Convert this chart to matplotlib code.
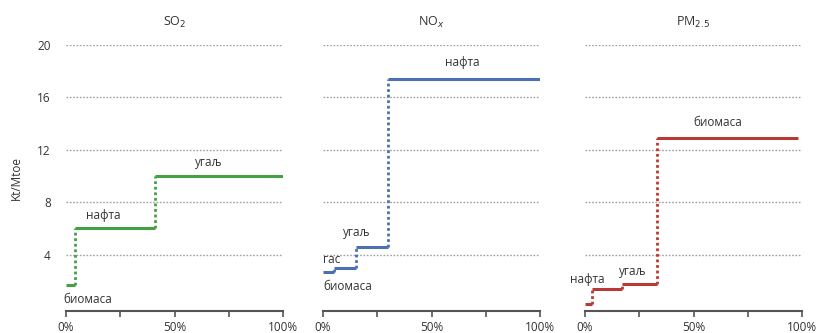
import matplotlib
matplotlib.use("Agg")
import matplotlib.pyplot as plt

# ---- data ----
titles = [r"SO$_2$", r"NO$_x$", r"PM$_{2.5}$"]

so2_fuels = ["биомаса", "нафта", "угаљ"]
so2_share_end = [4, 41, 100]          # cumulative share, %
so2_values = [1.7, 6.0, 10.0]         # Kt/Mtoe

nox_fuels = ["биомаса", "гас", "угаљ", "нафта"]
nox_share_end = [5, 15, 30, 100]
nox_values = [2.7, 2.95, 4.6, 17.4]

pm_fuels = ["гас", "нафта", "угаљ", "биомаса"]
pm_share_end = [3, 17, 33, 98]
pm_values = [0.2, 1.35, 1.75, 12.9]

y_ticks = [4, 8, 12, 16, 20]
x_ticks = [0, 25, 50, 75, 100]
x_ticklabels = ["0%", "", "50%", "", "100%"]
y_label = "Kt/Mtoe"

colors = ["#44a044", "#4a70b3", "#b83a36"]

# label positions (data coords) and which fuels are labelled
label_specs = [
    {"биомаса": (-1, 0.55, "left"), "нафта": (17, 7.0, "center"), "угаљ": (66, 11.0, "center")},
    {"биомаса": (0, 1.55, "left"), "гас": (0, 3.6, "left"), "угаљ": (15.5, 5.7, "center"), "нафта": (64, 18.7, "center")},
    {"нафта": (1, 2.1, "center"), "угаљ": (22, 2.7, "center"), "биомаса": (61, 14.1, "center")},
]

series = [
    (so2_fuels, so2_share_end, so2_values),
    (nox_fuels, nox_share_end, nox_values),
    (pm_fuels, pm_share_end, pm_values),
]

W, H = 826, 333
fig = plt.figure(figsize=(W / 100, H / 100), dpi=100)
plt.rcParams["font.family"] = ["Open Sans", "DejaVu Sans"]

lefts = [66, 323, 585]
width_px = 217
bottom_px, top_px = 311, 45

text_color = "#333333"
for i, (fuels, ends, vals) in enumerate(series):
    ax = fig.add_axes([lefts[i] / W, 1 - bottom_px / H, width_px / W, (bottom_px - top_px) / H])
    ax.set_xlim(0, 100)
    ax.set_ylim(-0.3, 20)
    for yt in y_ticks:
        ax.axhline(yt, color="#a0a0a0", lw=1.0, ls=(0, (1.2, 1.2)), zorder=1)
    starts = [0] + ends[:-1]
    c = colors[i]
    ax.hlines(vals, starts, ends, colors=c, lw=2.2, zorder=3)
    for k in range(1, len(vals)):
        ax.vlines(ends[k - 1], vals[k - 1], vals[k], colors=c, lw=2.0,
                  linestyles=(0, (1, 1)), zorder=3)
    for f, (lx, ly, ha) in label_specs[i].items():
        ax.text(lx, ly, f, ha=ha, va="center", fontsize=8.5, color=text_color)
    for s in ["top", "right", "left"]:
        ax.spines[s].set_visible(False)
    ax.spines["bottom"].set_color("#555555")
    ax.spines["bottom"].set_linewidth(1.5)
    ax.set_xticks(x_ticks)
    ax.set_xticklabels(x_ticklabels)
    ax.tick_params(axis="x", length=4, width=1.2, color="#555555", labelsize=8.5,
                   labelcolor=text_color, pad=3)
    ax.set_yticks(y_ticks)
    if i == 0:
        ax.tick_params(axis="y", length=0, pad=11, labelsize=8.5, labelcolor=text_color)
        ax.set_ylabel(y_label, fontsize=8.5, color=text_color, labelpad=10)
    else:
        ax.tick_params(axis="y", length=0, labelleft=False)
    ax.set_title(titles[i], fontsize=9, color=text_color, pad=14)

fig.savefig("out.png", dpi=100)
